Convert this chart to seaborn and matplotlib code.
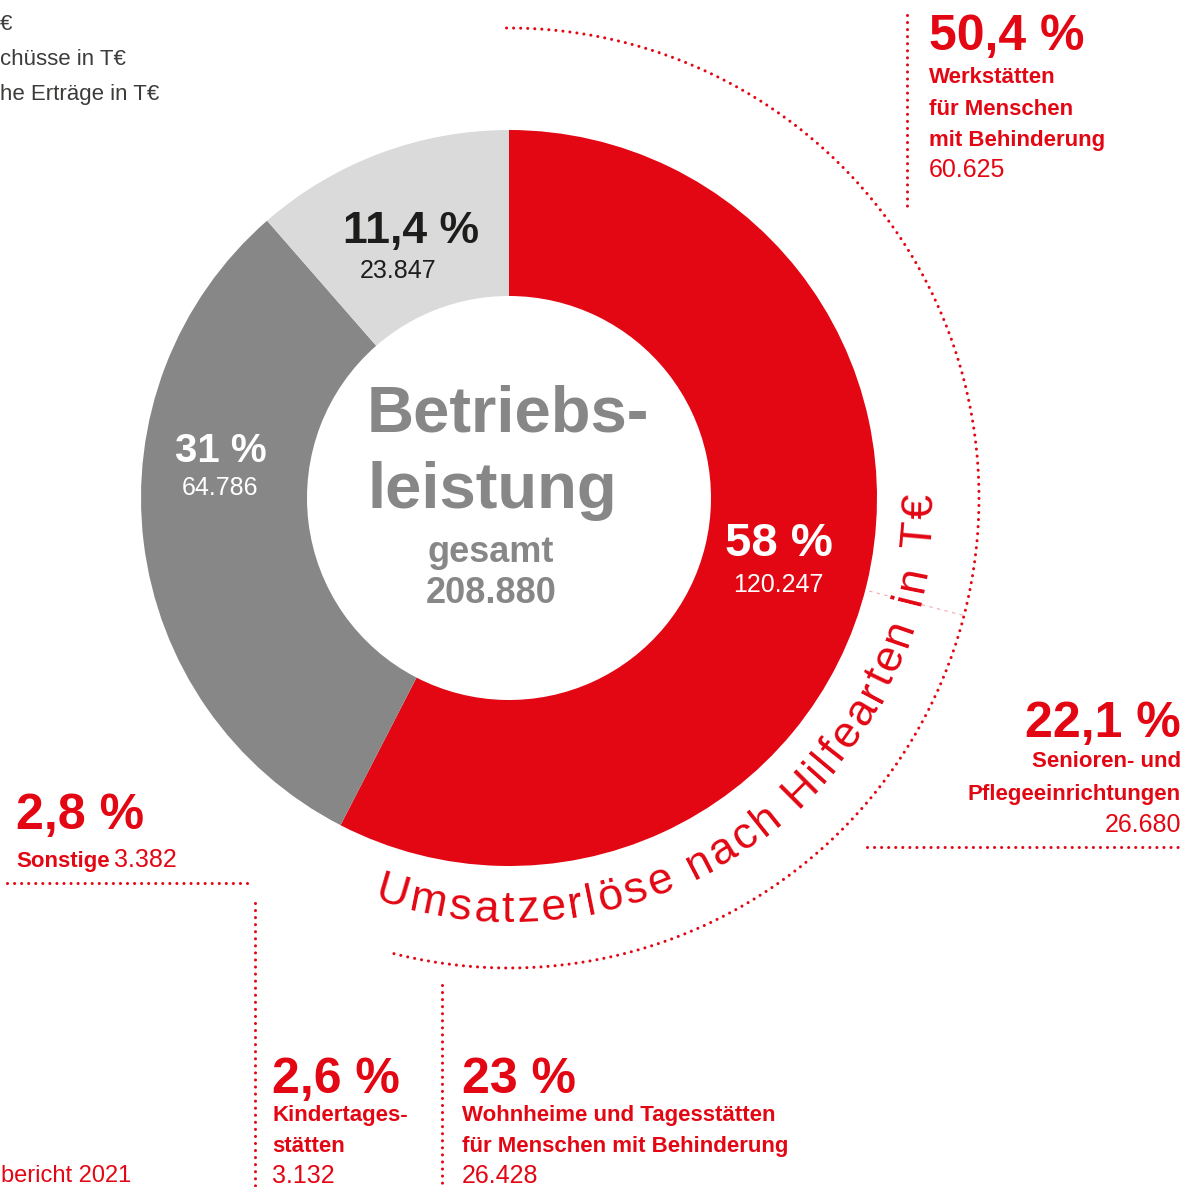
import numpy as np
import matplotlib
matplotlib.use("Agg")
import matplotlib.pyplot as plt
from matplotlib.font_manager import FontProperties
import seaborn as sns

# Betriebsleistung gesamt in T€
segments = ["Umsatzerlöse", "Zuschüsse", "Sonstige Erträge"]
segment_values = [120247, 64786, 23847]
segment_pct = ["58 %", "31 %", "11,4 %"]
segment_labels = ["120.247", "64.786", "23.847"]
total_label = "208.880"

# Umsatzerlöse nach Hilfearten in T€
hilfearten = [["Werkstätten", "für Menschen", "mit Behinderung"],
              ["Senioren- und", "Pflegeeinrichtungen"],
              ["Wohnheime und Tagesstätten", "für Menschen mit Behinderung"],
              ["Kindertages-", "stätten"],
              ["Sonstige"]]
hilfearten_values = [60625, 26680, 26428, 3132, 3382]
hilfearten_pct = ["50,4 %", "22,1 %", "23 %", "2,6 %", "2,8 %"]
hilfearten_labels = ["60.625", "26.680", "26.428", "3.132", "3.382"]

W, H = 1199, 1187
RED = "#e30613"
colors = sns.color_palette([RED, "#878787", "#dadada"])

sns.set_theme(style="white")
plt.rcParams["font.family"] = ["Liberation Sans", "DejaVu Sans"]

fig = plt.figure(figsize=(W / 100, H / 100), dpi=100)
ax = fig.add_axes([0, 0, 1, 1])

cx, cy = 509, H - 498
R, r_in = 368, 202

ax.pie(segment_values, colors=colors, startangle=90, counterclock=False,
       radius=R, center=(cx, cy),
       wedgeprops=dict(width=R - r_in, edgecolor="none"))

ax.set_xlim(0, W)
ax.set_ylim(0, H)
ax.set_aspect("equal")
ax.axis("off")


def T(x, y, s, size, color=RED, weight="normal", ha="left", **kw):
    ax.text(x, H - y, s, fontsize=size, color=color, fontweight=weight,
            ha=ha, va="baseline", **kw)


def dots(xs, ys, lw=2.2, color=RED, alpha=1.0):
    ax.plot(xs, ys, color=color, lw=lw, alpha=alpha,
            linestyle=(0, (0.01, 2.3)), dash_capstyle="round")


# centre
T(367, 432, "Betriebs-", 47, "#878787", "bold")
T(367, 508, "leistung", 47, "#878787", "bold")
T(491, 562, "gesamt", 26, "#878787", "bold", ha="center")
T(491, 603, total_label, 26, "#878787", "bold", ha="center")

# labels inside the ring
T(779, 556, segment_pct[0], 34, "white", "bold", ha="center")
T(778, 592, segment_labels[0], 18, "white", ha="center")
T(221, 462, segment_pct[1], 29, "white", "bold", ha="center")
T(220, 495, segment_labels[1], 18, "white", ha="center")
T(343, 243, segment_pct[2], 32, "#1d1d1b", "bold")
T(360, 278, segment_labels[2], 18, "#1d1d1b")

# outer dotted arc around the Umsatzerlöse ring
t = np.radians(np.linspace(90.3, -105, 400))
dots(cx + 470 * np.cos(t), cy + 470 * np.sin(t))

# faint divider after Werkstätten
a = np.radians(90 - 360 * hilfearten_values[0] / sum(segment_values))
ax.plot([cx + 372 * np.cos(a), cx + 470 * np.cos(a)],
        [cy + 372 * np.sin(a), cy + 470 * np.sin(a)],
        color=RED, lw=0.8, alpha=0.35, linestyle=(0, (3, 4)))

# curved title
fig.canvas.draw()
renderer = fig.canvas.get_renderer()
title = "Umsatzerlöse nach Hilfearten in T€"
fp = FontProperties(family=["Liberation Sans", "DejaVu Sans"], size=32)
base = renderer.get_text_width_height_descent("xx", fp, ismath=False)[0]
widths = [renderer.get_text_width_height_descent("x" + ch + "x", fp, ismath=False)[0] - base
          for ch in title]
r_txt = 424
a0, a1 = np.radians(-108.6), np.radians(0.5)
extra = (r_txt * (a1 - a0) - sum(widths)) / (len(title) - 1)
s = 0.0
for ch, w in zip(title, widths):
    th = a0 + (s + w / 2) / r_txt
    ax.text(cx + r_txt * np.cos(th), cy + r_txt * np.sin(th), ch,
            fontproperties=fp, color=RED, rotation=np.degrees(th) + 90,
            rotation_mode="anchor", ha="center", va="baseline")
    s += w + extra

# Hilfearten blocks: (x, ha, baseline pct, baselines of name lines, baseline value)
blocks = [
    (929, "left", 50, [83, 115, 146], 177),
    (1181, "right", 737, [767, 800], 832),
    (462, "left", 1093, [1121, 1152], 1183),
    (272, "left", 1093, [1121, 1152], 1183),
]
for i, (x, ha, yp, ylines, yv) in enumerate(blocks):
    T(x, yp, hilfearten_pct[i], 36, weight="bold", ha=ha)
    for line, yl in zip(hilfearten[i], ylines):
        T(x, yl, line, 16, weight="bold", ha=ha)
    T(x, yv, hilfearten_labels[i], 18, ha=ha)

T(16, 829, hilfearten_pct[4], 36, weight="bold")
T(16, 867, hilfearten[4][0], 16, weight="bold")
T(114, 867, hilfearten_labels[4], 18)

# dotted leader lines
dots([907, 907], [H - 15, H - 210])
dots([867, 1183], [H - 847, H - 847])
dots([7, 247], [H - 883, H - 883])
dots([255, 255], [H - 903, H - 1190])
dots([442, 442], [H - 985, H - 1190])

# fragments at the page edge
T(0, 30, "€", 16, "#3c3c3b")
T(0, 65, "chüsse in T€", 16, "#3c3c3b")
T(0, 100, "he Erträge in T€", 16, "#3c3c3b")
T(1, 1182, "bericht 2021", 17)

fig.savefig("out.png", dpi=100)
